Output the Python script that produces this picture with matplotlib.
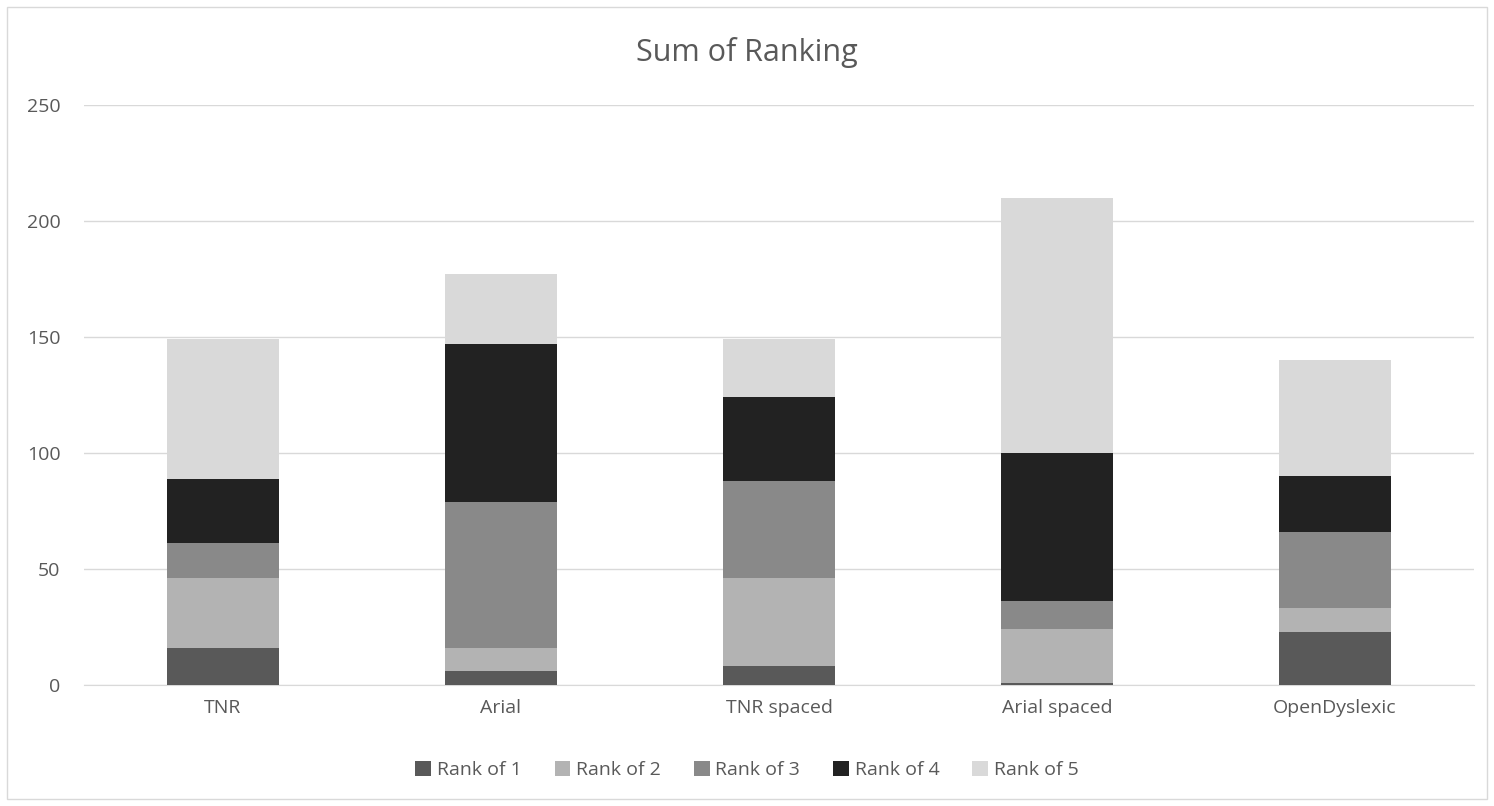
import matplotlib
matplotlib.use('Agg')
import matplotlib.pyplot as plt
import numpy as np

plt.rcParams['font.family'] = ['Open Sans', 'DejaVu Sans']

fonts = ['TNR', 'Arial', 'TNR spaced', 'Arial spaced', 'OpenDyslexic']
rank1 = [16, 6, 8, 1, 23]
rank2 = [30, 10, 38, 23, 10]
rank3 = [15, 63, 42, 12, 33]
rank4 = [28, 68, 36, 64, 24]
rank5 = [60, 30, 25, 110, 50]
series = [rank1, rank2, rank3, rank4, rank5]
names = ['Rank of 1', 'Rank of 2', 'Rank of 3', 'Rank of 4', 'Rank of 5']
colors = ['#595959', '#b3b3b3', '#898989', '#222222', '#d9d9d9']
txt = '#595959'

fig = plt.figure(figsize=(14.94, 8.06), dpi=100)
ax = fig.add_axes([84/1494, 1-685/806, 1390/1494, 580/806])

# outer frame like the excel chart border
fig.patches.append(plt.Rectangle((7/1494, 7/806), 1480/1494, 792/806, transform=fig.transFigure,
                                 fill=False, edgecolor='#d9d9d9', linewidth=1))

x = np.arange(len(fonts))
bottom = np.zeros(len(fonts))
for vals, nm, c in zip(series, names, colors):
	ax.bar(x, vals, 0.4, bottom=bottom, color=c, label=nm, zorder=3)
	bottom += np.array(vals)

ax.set_xlim(-0.5, 4.5)
ax.set_ylim(0, 250)
ax.set_yticks(range(0, 251, 50))
ax.set_xticks(x)
ax.set_xticklabels(fonts)
ax.grid(axis='y', color='#d9d9d9', linewidth=1, zorder=0)
for s in ['top', 'right', 'left']:
	ax.spines[s].set_visible(False)
ax.spines['bottom'].set_color('#d9d9d9')
ax.tick_params(axis='both', length=0, labelsize=14, colors=txt)
ax.tick_params(axis='y', pad=17)
ax.tick_params(axis='x', pad=10)

fig.text(0.5, 1-52/806, 'Sum of Ranking', ha='center', va='center', fontsize=22, color=txt)

fig.legend(loc='center', bbox_to_anchor=(0.5, 1-770/806), ncol=5, frameon=False,
		   fontsize=14, labelcolor=txt, handlelength=0.8, handleheight=0.8,
		   handletextpad=0.3, columnspacing=1.7)

fig.savefig('out.png', dpi=100)
